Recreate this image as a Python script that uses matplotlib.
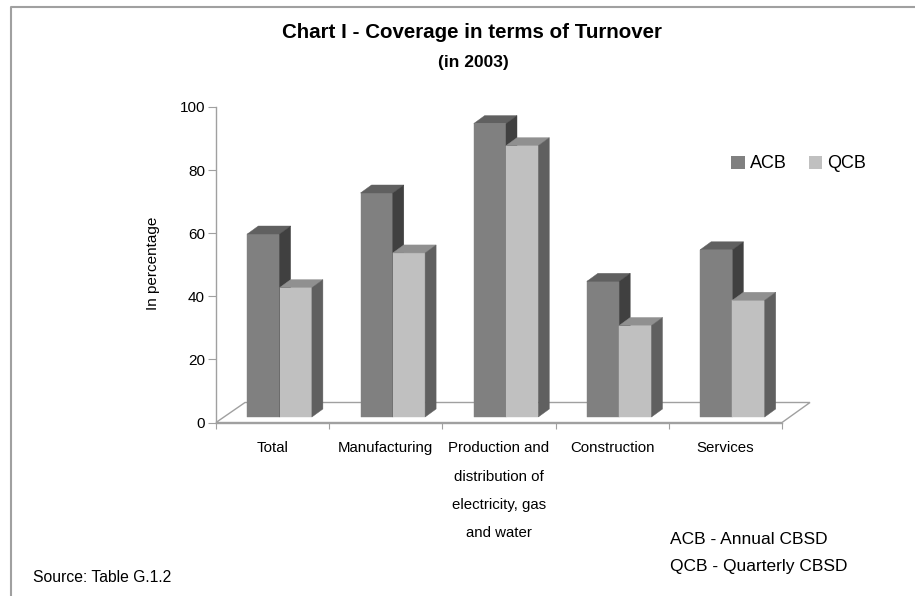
import matplotlib
matplotlib.use("Agg")
import matplotlib.pyplot as plt
from matplotlib.patches import Polygon, Patch
from matplotlib.lines import Line2D

categories = [
    "Total",
    "Manufacturing",
    "Production and\ndistribution of\nelectricity, gas\nand water",
    "Construction",
    "Services",
]
acb = [58, 71, 93, 43, 53]
qcb = [41, 52, 86, 29, 37]
series_names = ["ACB", "QCB"]
yticks = [0, 20, 40, 60, 80, 100]

# front / top / side shades of each series
shades = {
    "ACB": ("#808080", "#606060", "#404040"),
    "QCB": ("#c0c0c0", "#909090", "#606060"),
}
GRID = "#a0a0a0"

plt.rcParams["font.family"] = ["Liberation Sans Narrow", "Liberation Sans", "DejaVu Sans"]

W, H = 915, 596
fig = plt.figure(figsize=(W / 100, H / 100), dpi=100)
AX_L, AX_R, AX_B, AX_T = 216, 782, 422.5, 107
ax = fig.add_axes([AX_L / W, 1 - AX_B / H, (AX_R - AX_L) / W, (AX_B - AX_T) / H])
n = len(categories)
ax.set_xlim(0, n)
ax.set_ylim(0, 100)

px_x = (AX_R - AX_L) / n
px_y = (AX_B - AX_T) / 100.0


def dx(px):
    return px / px_x


def dy(px):
    return px / px_y


# floor of the 3d box
floor = Polygon([(0, 0), (n, 0), (n + dx(28), dy(20)), (dx(29), dy(20))],
                closed=True, facecolor="white", edgecolor=GRID, lw=1.0,
                clip_on=False, zorder=1)
ax.add_patch(floor)

bar_w = dx(32.3)
shift_x, base = dx(7), dy(5.5)
depth_x, depth_y = dx(11), dy(8)

z = 2
for i in range(n):
    for j, (name, vals) in enumerate(zip(series_names, [acb, qcb])):
        front, top_c, side_c = shades[name]
        x0 = i + 0.5 + shift_x - bar_w + j * bar_w
        v = vals[i]
        top = base + v
        ax.bar(x0, v, width=bar_w, bottom=base, align="edge", color=front,
               edgecolor=front, lw=0.3, clip_on=False, zorder=z)
        ax.add_patch(Polygon([(x0, top), (x0 + bar_w, top),
                              (x0 + bar_w + depth_x, top + depth_y),
                              (x0 + depth_x, top + depth_y)],
                             closed=True, facecolor=top_c, edgecolor=top_c,
                             lw=0.3, clip_on=False, zorder=z))
        ax.add_patch(Polygon([(x0 + bar_w, base),
                              (x0 + bar_w + depth_x, base + depth_y),
                              (x0 + bar_w + depth_x, top + depth_y),
                              (x0 + bar_w, top)],
                             closed=True, facecolor=side_c, edgecolor=side_c,
                             lw=0.3, clip_on=False, zorder=z))
        z += 1

for s in ["top", "right"]:
    ax.spines[s].set_visible(False)
for s in ["left", "bottom"]:
    ax.spines[s].set_color(GRID)
    ax.spines[s].set_linewidth(1.0)
    ax.spines[s].set_zorder(z + 1)

ax.set_yticks(yticks)
ax.tick_params(axis="y", direction="out", length=6, color=GRID, labelsize=11, pad=2)
ax.set_xticks(range(n + 1))
ax.set_xticklabels([])
ax.tick_params(axis="x", which="major", direction="out", length=4, color=GRID)
ax.set_xticks([i + 0.5 for i in range(n)], minor=True)
ax.set_xticklabels(categories, minor=True, fontsize=10.8, linespacing=2.3)
ax.tick_params(axis="x", which="minor", length=0, pad=13.5)
ax.patch.set_visible(False)

fig.text(153 / W, 1 - 263 / H, "In percentage", rotation=90, ha="center",
         va="center", fontsize=11)
fig.text(472 / W, 1 - 32 / H, "Chart I - Coverage in terms of Turnover",
         ha="center", va="center", fontsize=14.8, fontweight="bold")
fig.text(473 / W, 1 - 63 / H, "(in 2003)", ha="center", va="center",
         fontsize=12.5, fontweight="bold")

handles = [Patch(facecolor=shades[nm][0], edgecolor="none", label=nm) for nm in series_names]
fig.legend(handles=handles, loc="center left", bbox_to_anchor=(731 / W, 1 - 164 / H),
           ncol=2, frameon=False, fontsize=13, handlelength=0.75, handleheight=0.75,
           handletextpad=0.3, columnspacing=1.2, borderpad=0, borderaxespad=0)

fig.text(670 / W, 1 - 539 / H, "ACB - Annual CBSD", ha="left", va="center", fontsize=12.5)
fig.text(670 / W, 1 - 566 / H, "QCB - Quarterly CBSD", ha="left", va="center", fontsize=12.5)
fig.text(33 / W, 1 - 577 / H, "Source: Table G.1.2", ha="left", va="center", fontsize=11.3)

# outer frame (left and top edges only are visible)
fig.add_artist(Line2D([11 / W, 11 / W, 1], [0, 1 - 7 / H, 1 - 7 / H],
                      color=GRID, lw=1.5, transform=fig.transFigure))

fig.savefig("out.png", dpi=100)
